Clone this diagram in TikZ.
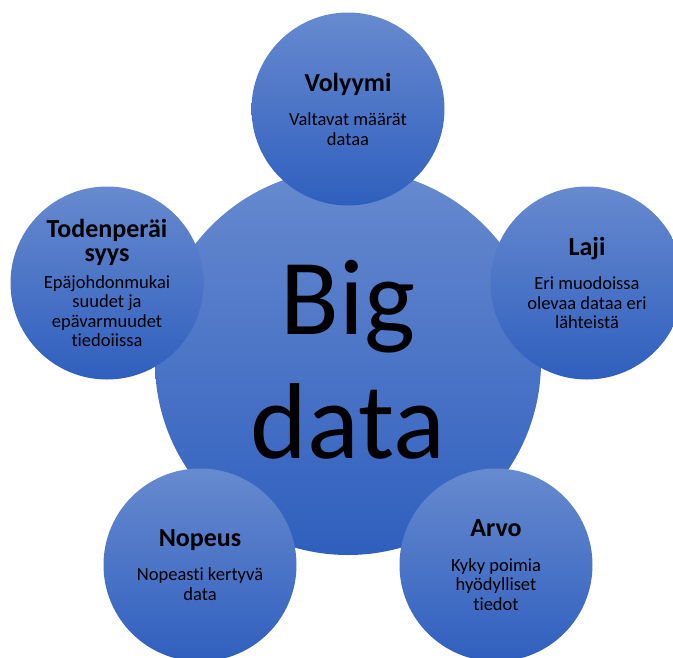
\documentclass[tikz,border=0pt]{standalone}
\usepackage{fontspec}
\setmainfont{Carlito}[Ligatures=NoCommon]
\definecolor{bdtop}{RGB}{103,138,207}
\definecolor{bdbot}{RGB}{47,95,190}
\newcommand\circtitle{\fontsize{26}{26}\selectfont\bfseries}
\begin{document}
\begin{tikzpicture}[x=1pt,y=-1pt,
	every node/.style={circle,inner sep=0pt,align=center,top color=bdtop,bottom color=bdbot,font=\fontsize{18.5}{19.5}\selectfont},
	major/.style={minimum size=386pt,font=\fontsize{108}{124}\selectfont},
	minor/.style={minimum size=193pt}]
	\useasboundingbox (0,0) rectangle (673,657);
	\clip (0,0) rectangle (673,657);
	\node[major] (big) at (348,362)	{\raisebox{5pt}{Big}\\\raisebox{5pt}{data}};
	\node[minor] (vol) at (348,109)	{{\circtitle Volyymi}\\[15pt]Valtavat määrät\\dataa};
	\node[minor] (laji) at (587,283)	{{\circtitle Laji}\\[15pt]Eri muodoissa\\olevaa dataa eri\\lähteistä};
	\node[minor] (arvo) at (496,565)	{{\circtitle Arvo}\\[15pt]Kyky poimia\\hyödylliset\\tiedot};
	\node[minor] (nop) at (200,565)	{{\circtitle Nopeus}\\[15pt]Nopeasti kertyvä\\data};
	\node[minor] (tod) at (107,283)	{{\circtitle Todenperäi}\\[5pt]{\circtitle syys}\\[7pt]Epäjohdonmukai\\suudet ja\\epävarmuudet\\tiedoiissa};
\end{tikzpicture}
\end{document}
